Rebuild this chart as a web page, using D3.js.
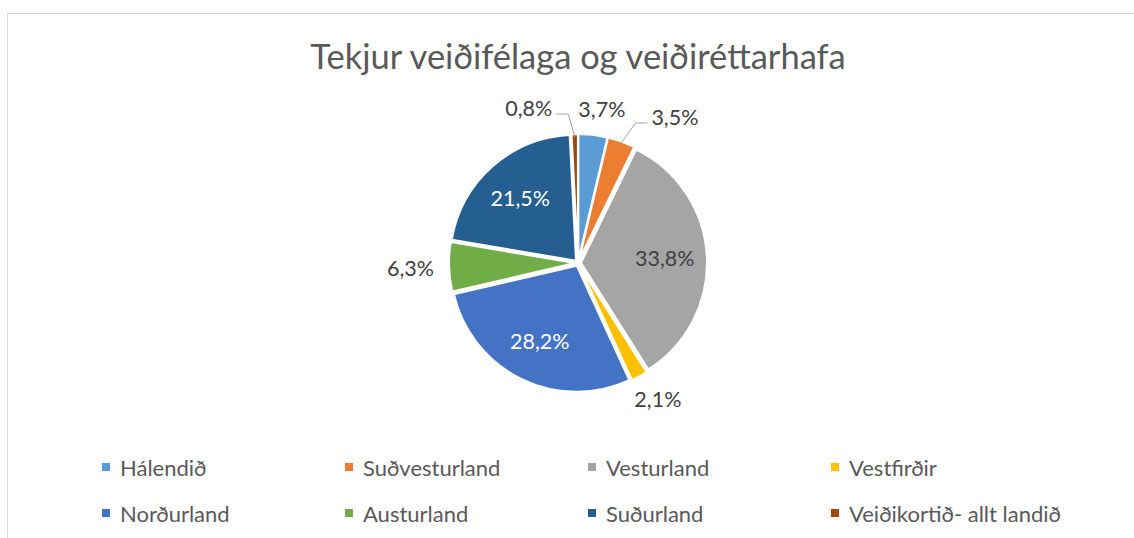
<!DOCTYPE html>
<html>
<head>
<meta charset="utf-8">
<script src="https://cdn.jsdelivr.net/npm/d3@7"></script>
<style>
  body { margin: 0; background: #fff; }
  text { font-family: Lato, "Open Sans", sans-serif; }
</style>
</head>
<body>
<div id="chart"></div>
<script>
// data
const regions = ["Hálendið", "Suðvesturland", "Vesturland", "Vestfirðir",
                 "Norðurland", "Austurland", "Suðurland", "Veiðikortið- allt landið"];
const shares = [3.7, 3.5, 33.8, 2.1, 28.2, 6.3, 21.5, 0.8];
const colors = ["#5b9bd5", "#ed7d31", "#a5a5a5", "#ffc000",
                "#4472c4", "#70ad47", "#255e91", "#9e480e"];
const title = "Tekjur veiðifélaga og veiðiréttarhafa";

const width = 1134, height = 538,
    cx = 578, cy = 263, radius = 126,
    explode = 3;

const svg = d3.select("#chart").append("svg")
    .attr("width", width)
    .attr("height", height);

// cadre
svg.append("rect")
    .attr("x", 7.5).attr("y", 13.5)
    .attr("width", width + 20).attr("height", height + 20)
    .style("fill", "none")
    .style("stroke", "#d9d9d9")
    .style("stroke-width", 1);

svg.append("text")
    .attr("x", cx)
    .attr("y", 69)
    .attr("text-anchor", "middle")
    .style("fill", "#595959")
    .style("font-size", "34.5px")
    .text(title);

const data = regions.map((r, i) => ({ name: r, value: shares[i], color: colors[i] }));

const pie = d3.pie().sort(null).value(d => d.value);
const arcs = pie(data);
const arc = d3.arc().innerRadius(0).outerRadius(radius);

const g = svg.append("g").attr("transform", `translate(${cx},${cy})`);

const mid = d => (d.startAngle + d.endAngle) / 2;

g.selectAll("path")
    .data(arcs)
    .enter().append("path")
    .attr("d", arc)
    .attr("transform", d => `translate(${explode * Math.sin(mid(d))},${-explode * Math.cos(mid(d))})`)
    .style("fill", d => d.data.color)
    .style("stroke", "#fff")
    .style("stroke-width", 2);

// étiquettes : grandes parts à l'intérieur, petites à l'extérieur
const fmt = v => d3.format(".1f")(v).replace(".", ",") + "%";
const inside = d => d.data.value > 15;
const labelColor = d => (d.data.color === "#a5a5a5" ? "#404040" : "#fff");
const fontSize = 21.5;

const inner = arcs.filter(inside);
g.selectAll("text.in")
    .data(inner)
    .enter().append("text")
    .attr("class", "in")
    .attr("x", d => radius * 0.69 * Math.sin(mid(d)))
    .attr("y", d => -radius * 0.69 * Math.cos(mid(d)))
    .attr("text-anchor", "middle")
    .attr("dominant-baseline", "central")
    .style("font-size", fontSize + "px")
    .style("fill", labelColor)
    .text(d => fmt(d.data.value));

// placement des étiquettes extérieures
const outerText = g.selectAll("text.out")
    .data(arcs.filter(d => !inside(d)))
    .enter().append("text")
    .attr("class", "out")
    .attr("text-anchor", "middle")
    .attr("dominant-baseline", "central")
    .style("font-size", fontSize + "px")
    .style("fill", "#404040")
    .text(d => fmt(d.data.value));

const outer = [];
outerText.each(function(d) {
    const a = mid(d), r = radius + 18;
    const w = this.getComputedTextLength(), h = 22;
    const x = r * Math.sin(a) + Math.sin(a) * w / 2,
        y = -r * Math.cos(a) - Math.cos(a) * h / 2;
    outer.push({ node: this, d: d, a: a, w: w, h: h, x0: x, y0: y, x: x, y: y });
});

// on écarte les étiquettes qui se chevauchent
const pad = 26;
for (let k = 0; k < 60; k++) {
    for (let i = 0; i < outer.length; i++) {
        for (let j = i + 1; j < outer.length; j++) {
            const A = outer[i], B = outer[j];
            if (Math.abs(A.y - B.y) > (A.h + B.h) / 2) continue;
            const need = (A.w + B.w) / 2 + pad, dx = B.x - A.x;
            if (Math.abs(dx) >= need) continue;
            const s = dx >= 0 ? 1 : -1, shift = (need - Math.abs(dx)) / 2;
            A.x -= s * shift;
            B.x += s * shift;
        }
    }
}

outer.forEach(o => {
    d3.select(o.node).attr("x", o.x).attr("y", o.y);

    // ligne de rappel si l'étiquette a bougé
    if (Math.hypot(o.x - o.x0, o.y - o.y0) > 15) {
        const px = radius * Math.sin(o.a), py = -radius * Math.cos(o.a);
        const side = px > o.x ? 1 : -1;
        const sx = o.x + side * (o.w / 2 + 4), ly = o.y + 6;
        g.append("polyline")
            .attr("points", [[sx, ly], [sx + side * 12, ly], [px, py]].map(p => p.join(",")).join(" "))
            .style("fill", "none")
            .style("stroke", "#a6a6a6")
            .style("stroke-width", 1);
    }
});

// légende
const legendX = d3.scalePoint().domain(d3.range(4)).range([102, 831]);
const legendY = d3.scalePoint().domain(d3.range(2)).range([467, 513]);

const legend = svg.append("g");
const items = legend.selectAll("g")
    .data(data)
    .enter().append("g")
    .attr("transform", (d, i) => `translate(${legendX(i % 4)},${legendY(Math.floor(i / 4))})`);

items.append("rect")
    .attr("x", 0).attr("y", -4)
    .attr("width", 8).attr("height", 8)
    .style("fill", d => d.color);

items.append("text")
    .attr("x", 18)
    .attr("y", 0)
    .attr("dominant-baseline", "central")
    .style("font-size", "22px")
    .style("fill", "#595959")
    .text(d => d.name);
</script>
</body>
</html>
